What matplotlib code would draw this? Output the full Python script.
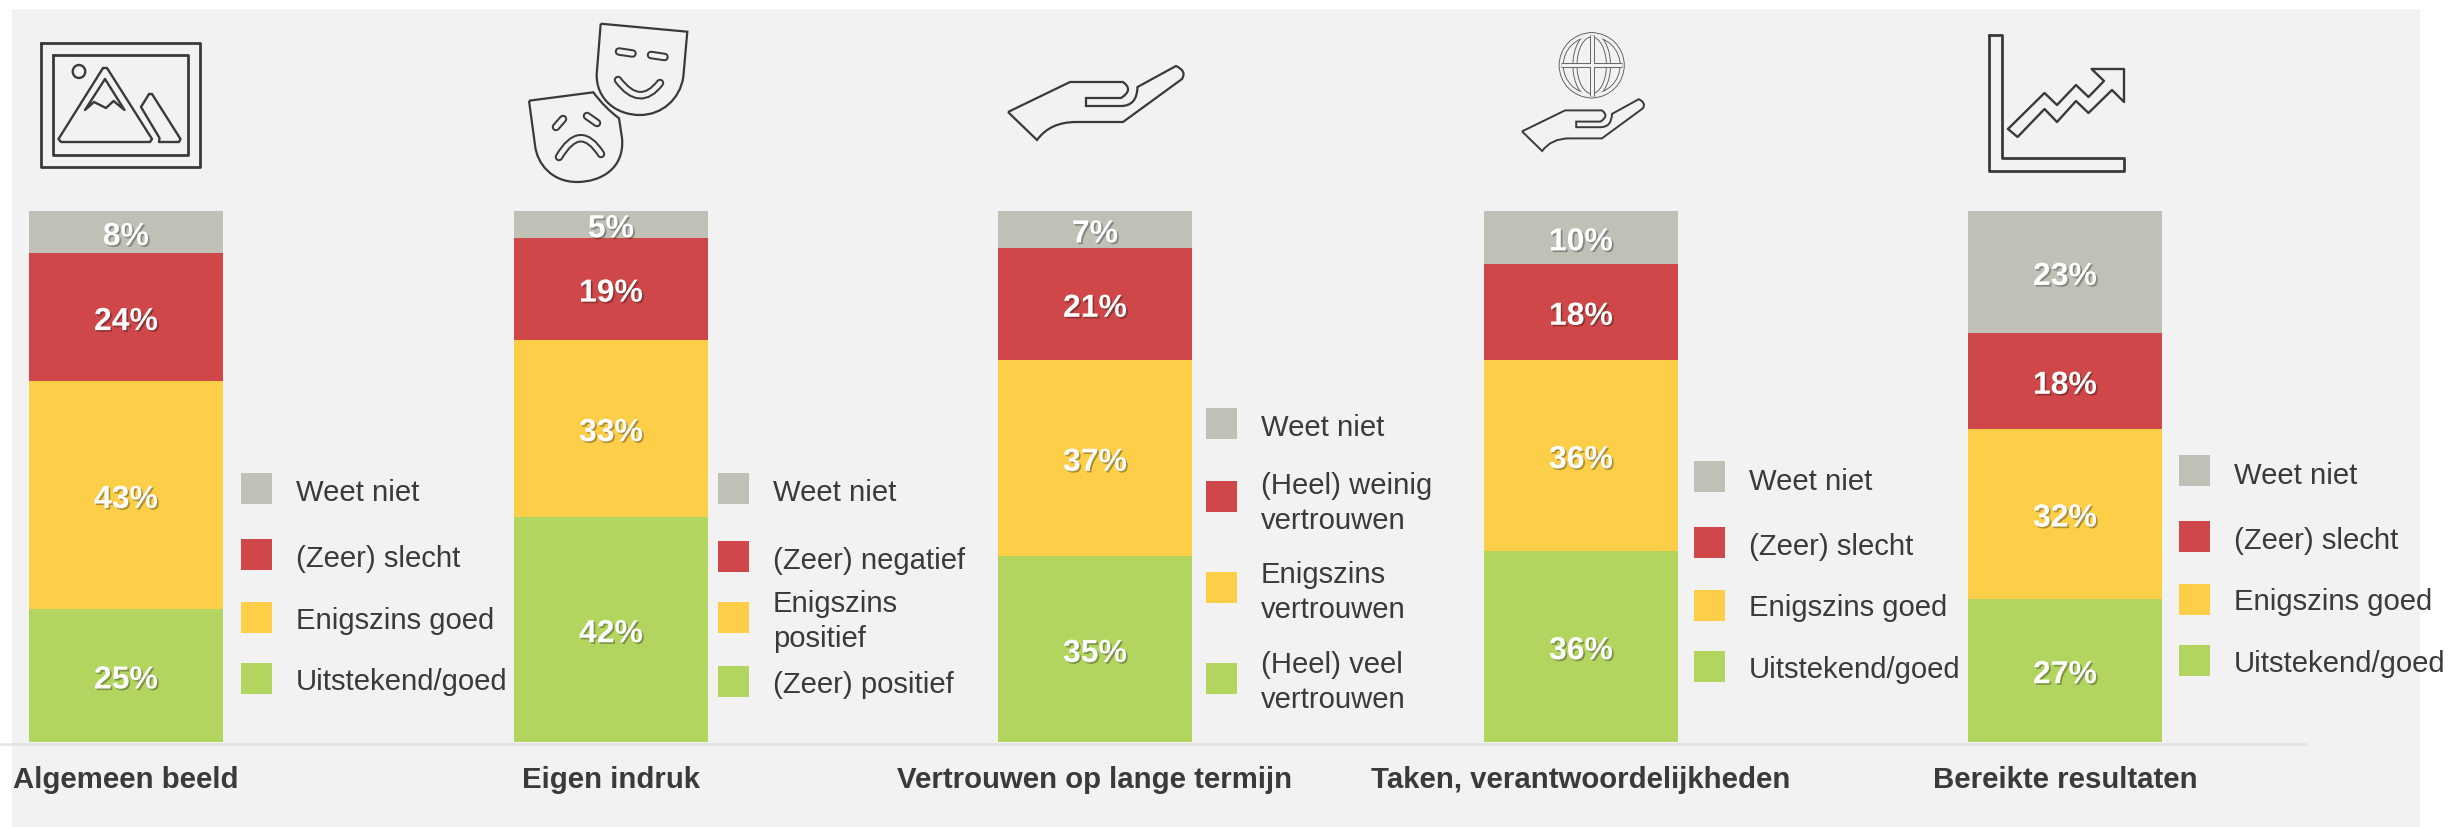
import numpy as np
import matplotlib
matplotlib.use("Agg")
import matplotlib.pyplot as plt
import matplotlib.patheffects as pe
from matplotlib.patches import Rectangle, Ellipse, PathPatch
from matplotlib.path import Path

plt.rcParams['font.family'] = ['Liberation Sans', 'DejaVu Sans']

categories = ["Algemeen beeld", "Eigen indruk", "Vertrouwen op lange termijn",
              "Taken, verantwoordelijkheden", "Bereikte resultaten"]

# shares per category, bottom of the stack first
uitstekend = [25, 42, 35, 36, 27]
enigszins = [43, 33, 37, 36, 32]
slecht = [24, 19, 21, 18, 18]
weet_niet = [8, 5, 7, 10, 23]

legend_labels = [
    ["Weet niet", "(Zeer) slecht", "Enigszins goed", "Uitstekend/goed"],
    ["Weet niet", "(Zeer) negatief", "Enigszins\npositief", "(Zeer) positief"],
    ["Weet niet", "(Heel) weinig\nvertrouwen", "Enigszins\nvertrouwen", "(Heel) veel\nvertrouwen"],
    ["Weet niet", "(Zeer) slecht", "Enigszins goed", "Uitstekend/goed"],
    ["Weet niet", "(Zeer) slecht", "Enigszins goed", "Uitstekend/goed"],
]

GREY = '#C0C0B6'
RED = '#CF4749'
YELLOW = '#FDCE47'
GREEN = '#B2D55F'
PANEL = '#F2F2F2'
DARK = '#3A3A3A'
W, H = 2451, 828

# layout in pixels of the reference
bar_centers = [126, 611, 1095, 1581, 2065]
bar_width = 194
bar_top, bar_bottom = 212, 743
legend_sq_x = [241, 718, 1206, 1694, 2179]
legend_sq_y = [[489, 555, 618, 679], [489, 557, 618, 682], [424, 497, 588, 679],
               [477, 543, 606, 667], [471, 537, 600, 661]]
legend_base_y = [[501, 567, 629, 690], [501, 569, 612, 693], [436, 494, 583, 673],
                 [490, 555, 616, 678], [484, 549, 610, 672]]

fig = plt.figure(figsize=(W / 100, H / 100), dpi=100, facecolor='white')

# overlay in pixel coordinates for panel, icons, legends and texts
bg = fig.add_axes([0, 0, 1, 1], zorder=0)
bg.set_xlim(0, W)
bg.set_ylim(H, 0)
bg.axis('off')
bg.add_patch(Rectangle((12, 10), 2408, 818, fc=PANEL, ec='none'))
bg.plot([0, 2307], [745, 745], color='#E2E2E2', lw=1.8, solid_capstyle='butt')

ax = fig.add_axes([0, 1 - bar_bottom / H, 1, (bar_bottom - bar_top) / H], zorder=1)
ax.set_xlim(0, W)
ax.set_ylim(0, 100)
ax.axis('off')

values = np.array([uitstekend, enigszins, slecht, weet_niet], dtype=float)
stack = values / values.sum(axis=0) * 100
bottom = np.zeros(len(categories))
shadow = [pe.withSimplePatchShadow(offset=(1.2, -1.2), shadow_rgbFace='k', alpha=0.3)]
for raw, part, col in zip(values, stack, [GREEN, YELLOW, RED, GREY]):
    bars = ax.bar(bar_centers, part, bar_width, bottom=bottom, color=col)
    labs = ax.bar_label(bars, labels=[f"{v:.0f}%" for v in raw], label_type='center',
                        color='white', fontsize=23, fontweight='bold')
    for t in labs:
        t.xyann = (0, -3.5)
        t.set_path_effects(shadow)
    bottom += part

# category names under the axis
for xc, name in zip(bar_centers, categories):
    bg.text(xc, 788, name, ha='center', va='baseline', fontsize=21.2, fontweight='bold', color=DARK)

# small legend next to every bar
for i, labels in enumerate(legend_labels):
    for j, col in enumerate([GREY, RED, YELLOW, GREEN]):
        bg.add_patch(Rectangle((legend_sq_x[i], legend_sq_y[i][j] - 15.5), 31, 31, fc=col, ec='none'))
        for k, line in enumerate(labels[j].split("\n")):
            bg.text(legend_sq_x[i] + 55, legend_base_y[i][j] + k * 35.5, line, ha='left', va='baseline',
                    fontsize=21.1, color=DARK)


def outline(pts, closed=True, lw=1.7, color=DARK):
    pts = list(pts)
    if closed:
        pts = pts + [pts[0]]
    xs, ys = zip(*pts)
    bg.plot(xs, ys, color=color, lw=lw, solid_joinstyle='round', solid_capstyle='round')


def curve(verts, codes, lw=1.6, color=DARK):
    bg.add_patch(PathPatch(Path(verts, codes), fc='none', ec=color, lw=lw))


def band(verts, codes, width, line=2.0):
    # tube outline: wide dark stroke with a panel coloured stroke on top
    p = Path(verts, codes)
    bg.add_patch(PathPatch(p, fc='none', ec=DARK, lw=width * 0.72, capstyle='round'))
    bg.add_patch(PathPatch(p, fc='none', ec=PANEL, lw=(width - 2 * line) * 0.72, capstyle='round'))


M, L, Q, C = Path.MOVETO, Path.LINETO, Path.CURVE3, Path.CURVE4

# picture icon
outline([(41, 44), (200, 44), (200, 168), (41, 168)], lw=2.0)
outline([(53, 56), (188, 56), (188, 156), (53, 156)], lw=2.0)
bg.add_patch(Ellipse((79, 72.5), 12.5, 13, fc='none', ec=DARK, lw=1.7))
outline([(103, 69), (107, 69), (152, 140), (150, 143), (61, 143), (58.5, 140)])
outline([(105, 80), (124.5, 111), (113.5, 102), (106, 109), (94, 103), (85, 111)])
outline([(149, 95), (152, 95), (180.5, 140), (179, 143), (159, 143), (159.5, 139), (141, 108)])

# theatre masks
curve([(600.7, 24.7), (687.3, 32.7), (683.3, 78), (680, 100), (662, 116), (640, 116), (616, 116), (596, 100),
       (596.7, 75), (600.7, 24.7)], [M, L, L, C, C, C, C, C, C, L])
curve([(529, 101.7), (593.3, 93.3), (605, 109), (619, 119.3), (622, 139), (625, 170), (600, 183), (577, 183),
       (552, 183), (537, 165), (535, 146), (529, 101.7)], [M, L, Q, Q, L, C, C, C, C, C, C, L])
for p0, p1 in [((619, 52.5), (632.5, 54.5)), ((651, 56), (664.5, 58)), ((556, 128), (563, 120)), ((587, 117), (597, 124))]:
    band([p0, p1], [M, L], 8.5)
band([(618, 81), (640, 110), (660, 84)], [M, Q, Q], 8.5)
band([(559, 158), (580, 122), (601, 155)], [M, Q, Q], 8.5)


# open hand, given in the pixels of the large icon
def hand_path(sx=1.0, sy=1.0, x0=1008, y0=141):
    v = [(1008, 113), (1037, 141), (1050, 123), (1076, 123), (1123, 123), (1182, 80), (1187, 72), (1176, 67),
         (1137.5, 88), (1137, 107), (1121, 107), (1086, 107), (1086, 99), (1121, 99), (1134, 91), (1123, 83),
         (1070, 83), (1008, 113)]
    c = [M, L, Q, Q, L, L, Q, Q, L, Q, Q, L, L, L, Q, Q, L, L]
    return [(x0 + (x - 1008) * sx, y0 + (y - 141) * sy) for x, y in v], c


v, c = hand_path()
curve(v, c)
v, c = hand_path(0.695, 0.70, 1522, 152)
curve(v, c, lw=1.4)

# globe above the small hand
gx, gy, gr = 1591.7, 66.3, 30.5
gc_list = [Ellipse((gx, gy), 2 * gr, 2 * gr), Ellipse((gx, gy), 2 * gr * 0.55, 2 * gr)]
seg = [([(gx, gy - gr), (gx, gy + gr)]), ([(gx - gr, gy), (gx + gr, gy)])]
for col, wd in [('#5A5A5A', 5.0 * 0.72), (PANEL, 3.2 * 0.72)]:
    for e in gc_list:
        bg.add_patch(Ellipse(e.center, e.width, e.height, fc='none', ec=col, lw=wd))
    for s in seg:
        bg.plot(*zip(*s), color=col, lw=wd, solid_capstyle='butt')

# growth chart icon
outline([(1989, 36), (2001.6, 36), (2001.6, 159), (2124, 159), (2124, 172), (1989, 172)], lw=2.0)
outline([(2008, 130), (2044.5, 94), (2057, 106), (2076, 86), (2088.5, 98), (2104, 82), (2091.6, 70), (2124, 70),
         (2124, 103), (2112, 91), (2088.5, 114), (2076, 102), (2057, 123), (2044.5, 110), (2017.6, 138)])

fig.savefig("out.png", dpi=100, facecolor='white')
